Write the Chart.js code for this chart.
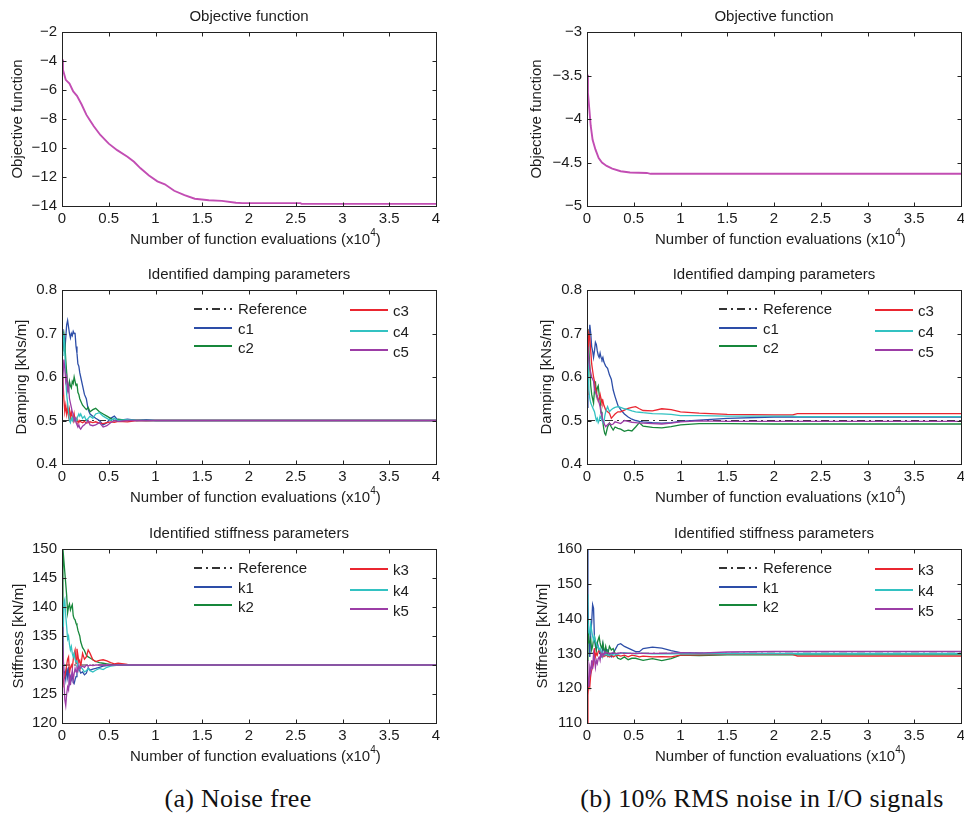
<!DOCTYPE html>
<html>
<head>
<meta charset="utf-8">
<script src="https://cdn.jsdelivr.net/npm/chart.js@4.4.1/dist/chart.umd.min.js"></script>
<style>
    body { margin: 0; background: #fff; width: 964px; height: 834px; position: relative; overflow: hidden; }
    canvas { position: absolute; }
    .caption {
        position: absolute; top: 784px; width: 500px; text-align: center;
        font-family: "Liberation Serif", "Times New Roman", serif; font-size: 26px;
        letter-spacing: 0.3px; color: #111;
    }
</style>
</head>
<body>
<canvas id="objA" width="480" height="250" style="left:0;top:0"></canvas>
<canvas id="objB" width="490" height="250" style="left:480px;top:0"></canvas>
<canvas id="dampA" width="480" height="250" style="left:0;top:258px"></canvas>
<canvas id="dampB" width="490" height="250" style="left:480px;top:258px"></canvas>
<canvas id="stiffA" width="480" height="250" style="left:0;top:517px"></canvas>
<canvas id="stiffB" width="490" height="250" style="left:480px;top:517px"></canvas>
<div class="caption" style="left:-12px">(a) Noise free</div>
<div class="caption" style="left:512px">(b) 10% RMS noise in I/O signals</div>

<script>
// function evaluations, in units of 10^4
const objEvalsA = [0, 0.01, 0.04, 0.08, 0.12, 0.16, 0.21, 0.26, 0.3, 0.34, 0.41, 0.5, 0.59, 0.7, 0.77, 0.84, 0.93, 1.02, 1.1, 1.2, 1.31, 1.42, 1.57, 1.71, 1.86, 1.93, 2.55, 2.56, 4];
const objA = [-3.9, -4.6, -5.3, -5.55, -6.1, -6.4, -7.0, -7.7, -8.1, -8.5, -9.1, -9.7, -10.15, -10.6, -10.95, -11.4, -11.9, -12.3, -12.5, -12.95, -13.25, -13.5, -13.6, -13.65, -13.78, -13.8, -13.8, -13.85, -13.85];

const objEvalsB = [0, 0.01, 0.025, 0.04, 0.06, 0.09, 0.125, 0.16, 0.21, 0.27, 0.36, 0.46, 0.64, 0.68, 4];
const objB = [-3.49, -3.7, -3.89, -4.08, -4.24, -4.35, -4.45, -4.5, -4.54, -4.57, -4.6, -4.615, -4.62, -4.63, -4.63];

// shared sample points for the parameter histories
const evals = [0, 0.01, 0.02, 0.03, 0.04, 0.05, 0.06, 0.07, 0.08, 0.09, 0.1, 0.11, 0.12, 0.13, 0.14, 0.15, 0.16, 0.17, 0.18, 0.19,
    0.2, 0.22, 0.24, 0.26, 0.28, 0.3, 0.33, 0.36, 0.4, 0.44, 0.48, 0.52, 0.56, 0.6, 0.7, 0.8, 0.9, 1, 1.2, 1.5, 2, 2.2, 2.25, 3, 4];
const refEvals = [0, 4];

// damping, noise free
const dampA1 = [0.70, 0.71, 0.67, 0.66, 0.69, 0.72, 0.73, 0.715, 0.70, 0.69, 0.70, 0.695, 0.705, 0.70, 0.70,
    0.67, 0.655, 0.63, 0.625, 0.61, 0.60, 0.58, 0.56, 0.55, 0.525, 0.515, 0.51, 0.505, 0.50, 0.49,
    0.495, 0.505, 0.51, 0.50, 0.503, 0.50, 0.502, 0.50, 0.50, 0.50, 0.50, 0.50, 0.50, 0.50, 0.50];
const dampA2 = [0.66, 0.69, 0.70, 0.68, 0.64, 0.61, 0.58, 0.57, 0.59, 0.58, 0.575, 0.59, 0.585, 0.60, 0.59,
    0.58, 0.585, 0.565, 0.56, 0.55, 0.545, 0.535, 0.53, 0.525, 0.53, 0.52, 0.525, 0.528, 0.52, 0.515,
    0.51, 0.505, 0.50, 0.503, 0.50, 0.501, 0.50, 0.50, 0.50, 0.50, 0.50, 0.50, 0.50, 0.50, 0.50];
const dampA3 = [0.60, 0.59, 0.55, 0.52, 0.535, 0.515, 0.53, 0.51, 0.525, 0.505, 0.52, 0.51, 0.50, 0.515, 0.50,
    0.505, 0.497, 0.50, 0.495, 0.50, 0.497, 0.495, 0.498, 0.494, 0.495, 0.497, 0.495, 0.497, 0.494, 0.493,
    0.495, 0.497, 0.496, 0.498, 0.497, 0.50, 0.499, 0.50, 0.50, 0.50, 0.50, 0.50, 0.50, 0.50, 0.50];
const dampA4 = [0.65, 0.68, 0.70, 0.66, 0.60, 0.56, 0.54, 0.52, 0.50, 0.495, 0.505, 0.50, 0.51, 0.50, 0.505,
    0.50, 0.505, 0.51, 0.515, 0.51, 0.515, 0.505, 0.51, 0.50, 0.505, 0.51, 0.505, 0.515, 0.518, 0.51,
    0.505, 0.50, 0.505, 0.50, 0.502, 0.50, 0.50, 0.50, 0.50, 0.50, 0.50, 0.50, 0.50, 0.50, 0.50];
const dampA5 = [0.56, 0.60, 0.64, 0.62, 0.59, 0.60, 0.57, 0.58, 0.55, 0.54, 0.53, 0.52, 0.515, 0.50, 0.505,
    0.495, 0.49, 0.485, 0.49, 0.483, 0.48, 0.487, 0.49, 0.495, 0.50, 0.49, 0.488, 0.49, 0.495, 0.485,
    0.488, 0.495, 0.50, 0.498, 0.50, 0.50, 0.50, 0.50, 0.50, 0.50, 0.50, 0.50, 0.50, 0.50, 0.50];

// damping, 10% noise
const dampB1 = [0.53, 0.62, 0.68, 0.72, 0.70, 0.67, 0.66, 0.645, 0.66, 0.68, 0.675, 0.66, 0.65, 0.645, 0.655,
    0.645, 0.64, 0.645, 0.635, 0.63, 0.625, 0.62, 0.605, 0.595, 0.57, 0.555, 0.535, 0.525, 0.515, 0.508,
    0.503, 0.50, 0.498, 0.497, 0.495, 0.494, 0.495, 0.498, 0.501, 0.505, 0.508, 0.508, 0.508, 0.508, 0.508];
const dampB2 = [0.60, 0.71, 0.66, 0.625, 0.58, 0.56, 0.55, 0.54, 0.57, 0.59, 0.56, 0.575, 0.58, 0.56, 0.545,
    0.52, 0.51, 0.495, 0.48, 0.47, 0.467, 0.485, 0.494, 0.485, 0.478, 0.485, 0.482, 0.48, 0.475, 0.478,
    0.476, 0.485, 0.495, 0.487, 0.484, 0.483, 0.486, 0.49, 0.493, 0.493, 0.492, 0.492, 0.492, 0.492, 0.492];
const dampB3 = [0.56, 0.65, 0.70, 0.69, 0.66, 0.63, 0.615, 0.60, 0.59, 0.575, 0.565, 0.555, 0.545, 0.55, 0.56,
    0.55, 0.54, 0.545, 0.535, 0.53, 0.524, 0.52, 0.517, 0.505, 0.51, 0.515, 0.52, 0.52, 0.524, 0.528,
    0.53, 0.532, 0.527, 0.523, 0.522, 0.527, 0.525, 0.52, 0.517, 0.514, 0.513, 0.513, 0.516, 0.516, 0.516];
const dampB4 = [0.63, 0.65, 0.57, 0.55, 0.54, 0.535, 0.53, 0.525, 0.52, 0.51, 0.50, 0.505, 0.495, 0.50, 0.51,
    0.505, 0.50, 0.495, 0.494, 0.51, 0.52, 0.532, 0.52, 0.525, 0.528, 0.53, 0.532, 0.53, 0.527, 0.525,
    0.522, 0.52, 0.519, 0.518, 0.516, 0.515, 0.514, 0.511, 0.511, 0.51, 0.51, 0.51, 0.509, 0.509, 0.509];
const dampB5 = [0.67, 0.66, 0.64, 0.62, 0.61, 0.60, 0.595, 0.59, 0.57, 0.565, 0.56, 0.555, 0.547, 0.54, 0.532,
    0.517, 0.51, 0.50, 0.495, 0.49, 0.486, 0.49, 0.494, 0.49, 0.492, 0.497, 0.495, 0.493, 0.50, 0.498,
    0.496, 0.495, 0.494, 0.494, 0.493, 0.492, 0.494, 0.497, 0.499, 0.498, 0.498, 0.498, 0.498, 0.498, 0.498];
const dampRef = [0.5, 0.5];

// stiffness, noise free
const stiffA1 = [136, 132, 129, 128.6, 127.5, 129.5, 128, 129.7, 127, 128, 127.5, 128.5, 127, 126.8, 127.5,
    128, 128.8, 129.5, 129.7, 129, 128.6, 128.8, 128.3, 128.6, 129.5, 129.1, 129.3, 129.4, 129.6, 129.8,
    129.9, 130, 130, 130, 130, 130, 130, 130, 130, 130, 130, 130, 130, 130, 130];
const stiffA2 = [130, 150, 148, 146, 144, 142, 139, 140, 140.5, 139.5, 140, 140.4, 138.5, 138, 137.8,
    137.2, 136.8, 136, 135.5, 135, 134, 133, 132.5, 131.7, 131.4, 131.2, 130.9, 130.6, 130.4, 130.3,
    130.2, 130.1, 130.05, 130, 130, 130, 130, 130, 130, 130, 130, 130, 130, 130, 130];
const stiffA3 = [126.8, 126.5, 127.5, 128, 129, 130, 131, 131.4, 128.6, 129.5, 130, 129.5, 130.9, 132, 132.6,
    130.3, 132.8, 131.7, 130.5, 130.8, 129.7, 132, 131, 131.4, 132.6, 132, 130.9, 130.6, 130.8, 130.9,
    130.7, 130.4, 130.2, 130.3, 130.1, 130.05, 130, 130, 130, 130, 130, 130, 130, 130, 130];
const stiffA4 = [129, 133, 140.7, 141.3, 138.5, 136.6, 134.5, 135, 133.5, 132.6, 133.2, 132, 131.4, 132, 131,
    130.5, 130.8, 129.4, 129.1, 129.5, 129.7, 129.3, 128.8, 129, 129.4, 129, 128.8, 129.1, 129.4, 129.2,
    129.6, 129.8, 129.9, 130, 130, 130, 130, 130, 130, 130, 130, 130, 130, 130, 130];
const stiffA5 = [136.6, 134, 127.4, 124, 123, 125, 126.2, 125.7, 128.6, 126.5, 128, 129.1, 127.4, 128.5, 129.4,
    128.8, 129.5, 129, 130, 129.4, 129.6, 129.8, 129.6, 130, 129.8, 130, 129.9, 130, 130, 130,
    130, 130, 130, 130, 130, 130, 130, 130, 130, 130, 130, 130, 130, 130, 130];

// stiffness, 10% noise
const stiffB1 = [160, 145, 134, 129, 136, 139, 144, 143, 134, 132, 131, 133, 132, 130.5, 130,
    129, 130, 132.5, 131, 130, 131, 131, 129.5, 129, 130, 131, 132.5, 132.8, 132, 131.5,
    131, 130.5, 130.5, 131.4, 131.8, 131.5, 130.8, 130.2, 130.1, 130, 130, 130, 130, 130, 130];
const stiffB2 = [128, 140, 133, 133, 134, 131, 132, 134, 134.8, 133, 131, 133, 134, 134.8, 133,
    132, 131.5, 133, 131, 130.5, 132, 129.5, 132, 131, 131.4, 130, 128.6, 128.3, 129, 128.2,
    128.6, 128.6, 128.3, 128, 128.5, 127.9, 128.5, 129.5, 129.4, 129.6, 129.6, 129.6, 129.6, 129.6, 129.6];
const stiffB3 = [110, 118, 122, 120.5, 124, 125.2, 126, 127, 131.5, 129, 130, 129.5, 130.5, 131, 130.5,
    130, 129.5, 129, 129.5, 129.2, 129.5, 129.3, 129, 129.5, 129, 129.3, 129.5, 129.2, 129.5, 129,
    129.5, 129.3, 129, 129.2, 129, 129.1, 129, 129.5, 129.6, 129.7, 129.7, 129.7, 129.2, 129.2, 129.2];
const stiffB4 = [147, 140, 136, 135.5, 138.5, 136.5, 135, 133.8, 134.8, 133.5, 132.9, 132, 131.9, 131, 131.5,
    130.5, 129.5, 129.5, 130, 129.5, 129.8, 129.5, 129.3, 129.8, 129.5, 129.6, 129.8, 130, 130.2, 130,
    130, 129.9, 130, 130, 129.9, 129.9, 129.9, 129.9, 129.9, 129.9, 129.9, 129.9, 129.9, 129.9, 129.9];
const stiffB5 = [128, 122.3, 120.4, 126, 124.5, 128, 125.5, 130, 128.5, 126, 128, 127.1, 128.5, 129, 128,
    130, 129.5, 130, 129.5, 130.5, 130, 130.2, 129.8, 130, 130.2, 130, 130, 130.2, 130, 130,
    130, 130, 130.1, 130, 130, 130, 130.1, 130.2, 130.1, 130.4, 130.6, 130.6, 130.6, 130.6, 130.6];
const stiffRef = [130, 130];

const dampLabels = ["c1", "c2", "c3", "c4", "c5"];
const stiffLabels = ["k1", "k2", "k3", "k4", "k5"];
const lineColors = ["#2d4ea8", "#17873b", "#ea2630", "#33c2c2", "#9c3da6"];
const objColor = "#c24db3";

const FONT = '"Liberation Sans", Arial, Helvetica, sans-serif';
const INK = "#1c1c1c";

function points(xs, ys) {
    return xs.map((x, i) => ({ x: x, y: ys[i] }));
}

// one history line per parameter, plus the dash-dot reference underneath
function paramDatasets(labels, arrays, refValues) {
    const sets = arrays.map((ys, i) => ({
        label: labels[i],
        data: points(evals, ys),
        borderColor: lineColors[i],
        borderWidth: 1.3,
        order: 5 - i
    }));
    sets.unshift({
        label: "Reference",
        data: points(refEvals, refValues),
        borderColor: "#333",
        borderWidth: 1.2,
        borderDash: [8, 4, 2, 4],
        order: 10
    });
    return sets;
}

// box, inward ticks, titles and the two-column legend
const panelFrame = {
    id: "panelFrame",
    afterDraw(chart, args, opts) {
        const ctx = chart.ctx;
        const a = chart.chartArea;
        const xs = chart.scales.x, ys = chart.scales.y;
        const L = Math.floor(a.left) + 0.5, R = Math.floor(a.right) + 0.5;
        const T = Math.floor(a.top) + 0.5, B = Math.floor(a.bottom) + 0.5;
        ctx.save();
        ctx.strokeStyle = "#222";
        ctx.lineWidth = 1;
        ctx.setLineDash([]);
        ctx.strokeRect(L, T, R - L, B - T);

        ctx.beginPath();
        xs.ticks.forEach(t => {
            const px = Math.round(xs.getPixelForValue(t.value)) + 0.5;
            ctx.moveTo(px, B); ctx.lineTo(px, B - 4);
            ctx.moveTo(px, T); ctx.lineTo(px, T + 4);
        });
        ys.ticks.forEach(t => {
            const py = Math.round(ys.getPixelForValue(t.value)) + 0.5;
            ctx.moveTo(L, py); ctx.lineTo(L + 4, py);
            ctx.moveTo(R, py); ctx.lineTo(R - 4, py);
        });
        ctx.stroke();

        ctx.fillStyle = INK;
        ctx.font = "15px " + FONT;
        ctx.textBaseline = "middle";
        ctx.textAlign = "center";
        ctx.fillText(opts.title, (a.left + a.right) / 2, a.top - 15);

        ctx.save();
        ctx.translate(a.left - opts.yTitleGap, (a.top + a.bottom) / 2);
        ctx.rotate(-Math.PI / 2);
        ctx.fillText(opts.yTitle, 0, 0);
        ctx.restore();

        // x label with a raised exponent
        ctx.textAlign = "left";
        const xt = "Number of function evaluations (x10";
        const x0 = a.left + 68, y0 = a.bottom + 34;
        ctx.fillText(xt, x0, y0);
        let w = ctx.measureText(xt).width;
        ctx.font = "10px " + FONT;
        ctx.fillText("4", x0 + w, y0 - 7);
        w += ctx.measureText("4").width;
        ctx.font = "15px " + FONT;
        ctx.fillText(")", x0 + w, y0);

        if (opts.legend) {
            const items = chart.data.datasets;
            const cols = [
                { entries: items.slice(0, 3), x1: 132, x2: 170, tx: 176, ly: [19, 38, 56], ty: [20, 40, 59] },
                { entries: items.slice(3), x1: 288, x2: 326, tx: 331, ly: [20, 41, 60], ty: [22, 43, 63] }
            ];
            cols.forEach(c => {
                c.entries.forEach((d, i) => {
                    ctx.beginPath();
                    ctx.strokeStyle = d.borderColor;
                    ctx.lineWidth = 2;
                    ctx.setLineDash(d.borderDash || []);
                    const ly = Math.round(a.top + c.ly[i]);
                    ctx.moveTo(a.left + c.x1, ly);
                    ctx.lineTo(a.left + c.x2, ly);
                    ctx.stroke();
                    ctx.setLineDash([]);
                    ctx.fillStyle = INK;
                    ctx.fillText(d.label, a.left + c.tx, a.top + c.ty[i]);
                });
            });
        }
        ctx.restore();
    }
};

const tickText = v => String(Math.round(v * 1000) / 1000).replace("-", "\u2212");

function makePanel(id, cfg) {
    new Chart(document.getElementById(id), {
        type: "line",
        data: { datasets: cfg.datasets },
        options: {
            responsive: false,
            animation: false,
            events: [],
            elements: { point: { radius: 0 }, line: { tension: 0 } },
            layout: { padding: { left: 0, right: cfg.padRight, top: 32, bottom: 0 } },
            plugins: {
                legend: { display: false },
                tooltip: { enabled: false },
                panelFrame: { title: cfg.title, yTitle: cfg.yTitle, yTitleGap: cfg.yTitleGap, legend: cfg.legend }
            },
            scales: {
                x: {
                    type: "linear", min: 0, max: 4,
                    grid: { display: false, drawTicks: false },
                    border: { display: false },
                    ticks: { stepSize: 0.5, padding: 4, maxRotation: 0, autoSkip: false, color: INK, font: { family: FONT, size: 15 }, callback: tickText },
                    afterFit: s => { s.height = 44; }
                },
                y: {
                    min: cfg.yMin, max: cfg.yMax,
                    grid: { display: false, drawTicks: false },
                    border: { display: false },
                    ticks: { stepSize: cfg.yStep, padding: 5, autoSkip: false, color: INK, font: { family: FONT, size: 15 }, callback: tickText },
                    afterFit: s => { s.width = cfg.axisWidth; }
                }
            }
        },
        plugins: [panelFrame]
    });
}

const leftCol = { axisWidth: 62, padRight: 44 };
const rightCol = { axisWidth: 107, padRight: 9 };

makePanel("objA", Object.assign({}, leftCol, {
    datasets: [{ label: "Objective", data: points(objEvalsA, objA), borderColor: objColor, borderWidth: 1.9 }],
    title: "Objective function", yTitle: "Objective function", yTitleGap: 44,
    yMin: -14, yMax: -2, yStep: 2, legend: false
}));
makePanel("objB", Object.assign({}, rightCol, {
    datasets: [{ label: "Objective", data: points(objEvalsB, objB), borderColor: objColor, borderWidth: 1.9 }],
    title: "Objective function", yTitle: "Objective function", yTitleGap: 50,
    yMin: -5, yMax: -3, yStep: 0.5, legend: false
}));
makePanel("dampA", Object.assign({}, leftCol, {
    datasets: paramDatasets(dampLabels, [dampA1, dampA2, dampA3, dampA4, dampA5], dampRef),
    title: "Identified damping parameters", yTitle: "Damping [kNs/m]", yTitleGap: 40,
    yMin: 0.4, yMax: 0.8, yStep: 0.1, legend: true
}));
makePanel("dampB", Object.assign({}, rightCol, {
    datasets: paramDatasets(dampLabels, [dampB1, dampB2, dampB3, dampB4, dampB5], dampRef),
    title: "Identified damping parameters", yTitle: "Damping [kNs/m]", yTitleGap: 40,
    yMin: 0.4, yMax: 0.8, yStep: 0.1, legend: true
}));
makePanel("stiffA", Object.assign({}, leftCol, {
    datasets: paramDatasets(stiffLabels, [stiffA1, stiffA2, stiffA3, stiffA4, stiffA5], stiffRef),
    title: "Identified stiffness parameters", yTitle: "Stiffness [kN/m]", yTitleGap: 43,
    yMin: 120, yMax: 150, yStep: 5, legend: true
}));
makePanel("stiffB", Object.assign({}, rightCol, {
    datasets: paramDatasets(stiffLabels, [stiffB1, stiffB2, stiffB3, stiffB4, stiffB5], stiffRef),
    title: "Identified stiffness parameters", yTitle: "Stiffness [kN/m]", yTitleGap: 44,
    yMin: 110, yMax: 160, yStep: 10, legend: true
}));
</script>
</body>
</html>
